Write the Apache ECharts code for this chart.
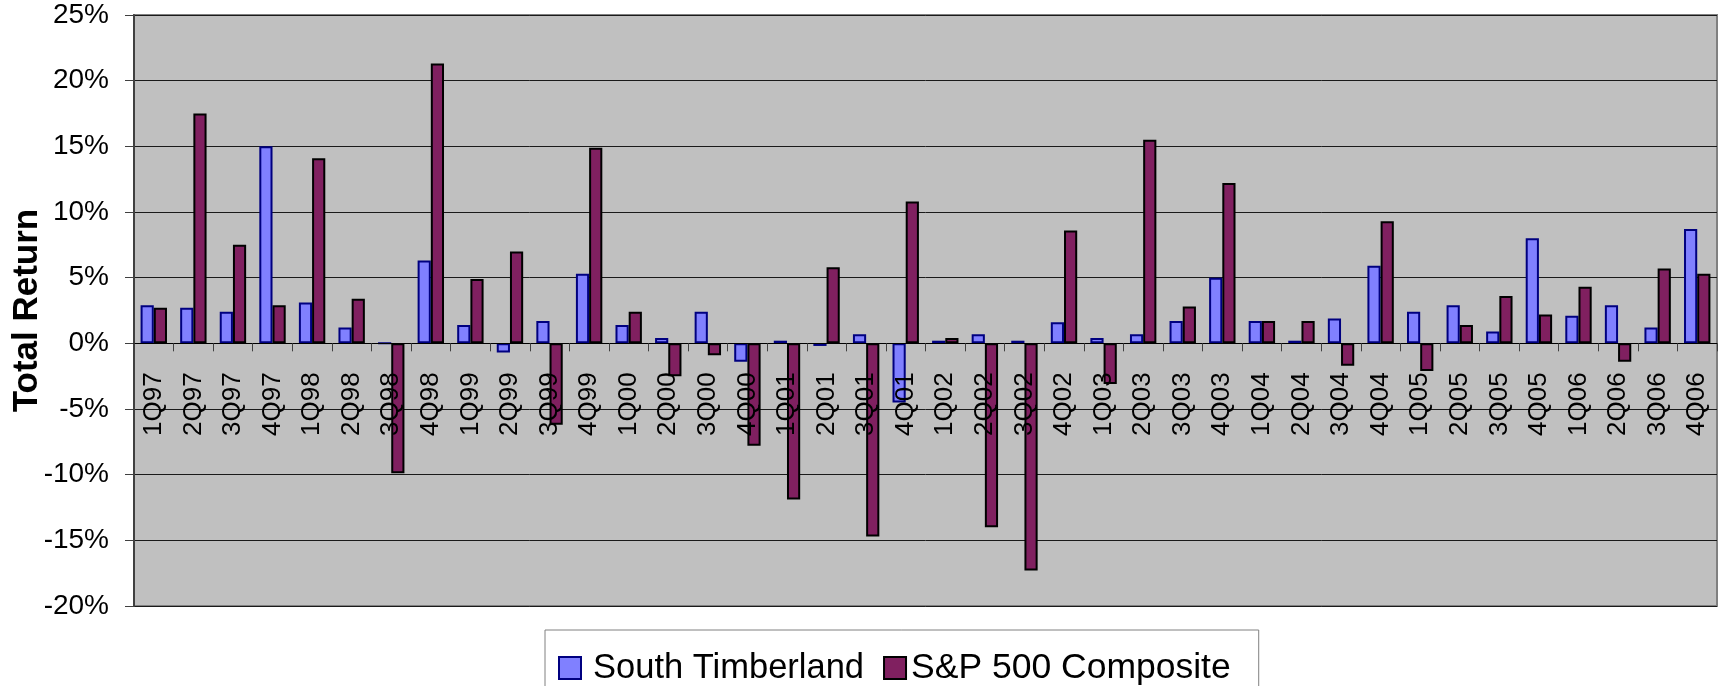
<!DOCTYPE html>
<html>
<head>
<meta charset="utf-8">
<title>Total Return</title>
<script src="https://cdn.jsdelivr.net/npm/echarts@6/dist/echarts.min.js"></script>
<style>
  html, body { margin: 0; padding: 0; background: #fff; }
  #chart { width: 1723px; height: 686px; }
</style>
</head>
<body>
<div id="chart"></div>
<script>
const quarters = [
  '1Q97', '2Q97', '3Q97', '4Q97', '1Q98', '2Q98', '3Q98', '4Q98',
  '1Q99', '2Q99', '3Q99', '4Q99', '1Q00', '2Q00', '3Q00', '4Q00',
  '1Q01', '2Q01', '3Q01', '4Q01', '1Q02', '2Q02', '3Q02', '4Q02',
  '1Q03', '2Q03', '3Q03', '4Q03', '1Q04', '2Q04', '3Q04', '4Q04',
  '1Q05', '2Q05', '3Q05', '4Q05', '1Q06', '2Q06', '3Q06', '4Q06'
]

// total return per quarter, in percent
const southTimberland = [
  2.9, 2.7, 2.4, 15.0, 3.1, 1.2, 0.0, 6.3,
  1.4, -0.7, 1.7, 5.3, 1.4, 0.4, 2.4, -1.4,
  0.2, -0.2, 0.7, -4.5, 0.2, 0.7, 0.2, 1.6,
  0.4, 0.7, 1.7, 5.0, 1.7, 0.2, 1.9, 5.9,
  2.4, 2.9, 0.9, 8.0, 2.1, 2.9, 1.2, 8.7
]

const sp500 = [
  2.7, 17.5, 7.5, 2.9, 14.1, 3.4, -9.9, 21.3,
  4.9, 7.0, -6.2, 14.9, 2.4, -2.5, -0.9, -7.8,
  -11.9, 5.8, -14.7, 10.8, 0.4, -14.0, -17.3, 8.6,
  -3.1, 15.5, 2.8, 12.2, 1.7, 1.7, -1.7, 9.3,
  -2.1, 1.4, 3.6, 2.2, 4.3, -1.4, 5.7, 5.3
]

const yMin = -20
const yMax = 25
const yStep = 5

const font = '"Liberation Sans", Arial, sans-serif'

// plot box (px)
const gridTop = 15
const gridBottom = 80
const gridHeight = 686 - gridTop - gridBottom
// lift the category axis from the bottom edge up to the 0% line
const zeroOffset = -gridHeight * (0 - yMin) / (yMax - yMin)

const chart = echarts.init(document.getElementById('chart'), null, { renderer: 'canvas' })

chart.setOption({
  backgroundColor: '#ffffff',
  animation: false,
  textStyle: { fontFamily: font, color: '#000' },
  grid: {
    left: 134,
    right: 6,
    top: gridTop,
    bottom: gridBottom,
    outerBoundsMode: 'none',
    containLabel: false,
    show: true,
    backgroundColor: '#c0c0c0',
    borderColor: '#808080',
    borderWidth: 2,
  },
  legend: {
    left: 545,
    top: 630,
    padding: [20, 28, 40, 13],
    backgroundColor: '#ffffff',
    borderColor: '#808080',
    borderWidth: 1,
    borderRadius: 0,
    icon: 'rect',
    itemWidth: 22,
    itemHeight: 22,
    itemGap: 19,
    textStyle: {
      fontFamily: font,
      fontSize: 34.5,
      color: '#000',
    },
    data: [
      { name: 'South Timberland', textStyle: { padding: [0, 0, 0, 7] } },
      { name: 'S&P 500 Composite', textStyle: { fontSize: 35.5, padding: [0, 0, 0, 0] } },
    ],
  },
  xAxis: {
    type: 'category',
    data: quarters,
    position: 'bottom',
    offset: zeroOffset,
    z: 10,
    axisLine: {
      onZero: false,
      lineStyle: { color: '#000', width: 1 },
    },
    axisTick: {
      show: true,
      length: 8,
      lineStyle: { color: '#404040', width: 1 },
    },
    axisLabel: {
      rotate: 90,
      margin: 29,
      fontFamily: font,
      fontSize: 26,
      color: '#000',
      interval: 0,
    },
    splitLine: { show: false },
  },
  yAxis: {
    type: 'value',
    min: yMin,
    max: yMax,
    interval: yStep,
    name: 'Total Return',
    nameLocation: 'middle',
    nameGap: 89,
    nameMoveOverlap: false,
    nameTextStyle: {
      fontFamily: font,
      fontSize: 35,
      fontWeight: 'bold',
      color: '#000',
    },
    axisLine: {
      show: true,
      lineStyle: { color: '#404040', width: 2 },
    },
    axisTick: {
      show: true,
      length: 9,
      lineStyle: { color: '#404040', width: 1 },
    },
    axisLabel: {
      margin: 25,
      fontFamily: font,
      fontSize: 28,
      color: '#000',
      formatter: '{value}%',
    },
    splitLine: {
      show: true,
      lineStyle: { color: '#1a1a1a', width: 1 },
    },
  },
  series: [
    {
      name: 'South Timberland',
      type: 'bar',
      data: southTimberland,
      barGap: '0%',
      barCategoryGap: '33.3%',
      itemStyle: {
        color: '#8080ff',
        borderColor: '#000080',
        borderWidth: 2,
      },
    },
    {
      name: 'S&P 500 Composite',
      type: 'bar',
      data: sp500,
      barGap: '0%',
      barCategoryGap: '33.3%',
      itemStyle: {
        color: '#802060',
        borderColor: '#000000',
        borderWidth: 2,
      },
    },
  ],
})
</script>
</body>
</html>
